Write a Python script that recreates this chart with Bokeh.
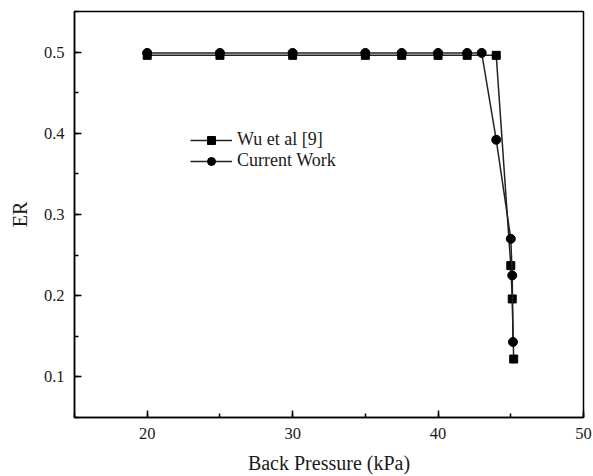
from bokeh.plotting import figure
from bokeh.models import Range1d, SingleIntervalTicker, Legend, LegendItem
from bokeh.embed import file_html
from bokeh.resources import INLINE

wu_x = [20, 25, 30, 35, 37.5, 40, 42, 44, 45.0, 45.1, 45.2]
wu_y = [0.496, 0.496, 0.496, 0.496, 0.496, 0.496, 0.496, 0.496, 0.237, 0.196, 0.122]
cw_x = [20, 25, 30, 35, 37.5, 40, 42, 43, 44, 45.0, 45.1, 45.15]
cw_y = [0.499, 0.499, 0.499, 0.499, 0.499, 0.499, 0.499, 0.499, 0.392, 0.270, 0.225, 0.143]

FONT = "Liberation Serif"
TXT = "#1a1a1a"

p = figure(width=593, height=476, output_backend="svg", toolbar_location=None,
           x_range=Range1d(15, 50), y_range=Range1d(0.05, 0.55),
           min_border_left=74, min_border_right=10, min_border_top=11, min_border_bottom=55)
p.grid.visible = False
p.background_fill_color = "white"
p.border_fill_color = "white"
p.outline_line_color = "black"
p.outline_line_width = 1.5

p.xaxis.ticker = SingleIntervalTicker(interval=10, num_minor_ticks=2)
p.yaxis.ticker = SingleIntervalTicker(interval=0.1, num_minor_ticks=2)
for ax in (p.xaxis[0], p.yaxis[0]):
    ax.major_tick_in = 7
    ax.major_tick_out = 0
    ax.minor_tick_in = 4
    ax.minor_tick_out = 0
    ax.axis_line_width = 1.5
    ax.major_tick_line_width = 1.5
    ax.minor_tick_line_width = 1.5
    ax.axis_line_color = "black"
    ax.major_label_text_font = FONT
    ax.major_label_text_font_size = "16.5px"
    ax.major_label_text_color = TXT
    ax.axis_label_text_font = FONT
    ax.axis_label_text_font_size = "20px"
    ax.axis_label_text_font_style = "normal"
    ax.axis_label_text_color = TXT
    ax.major_label_standoff = 10
    ax.axis_label_standoff = 10

p.xaxis.axis_label = "Back Pressure (kPa)"
p.yaxis.axis_label = "ER"
p.yaxis.major_label_orientation = "horizontal"

l1 = p.line(wu_x, wu_y, line_color="#222222", line_width=1.5)
s1 = p.scatter(wu_x, wu_y, marker="square", size=8, fill_color="black", line_color="black")
l2 = p.line(cw_x, cw_y, line_color="#222222", line_width=1.5)
s2 = p.scatter(cw_x, cw_y, marker="circle", size=9, fill_color="black", line_color="black")

legend = Legend(items=[LegendItem(label="Wu et al [9]", renderers=[l1, s1]),
                       LegendItem(label="Current Work", renderers=[l2, s2])],
                location=(116, 246), padding=0, margin=0, spacing=0,
                glyph_width=42, glyph_height=20, label_height=20, label_standoff=5,
                label_text_font=FONT, label_text_font_size="18px", label_text_color=TXT,
                border_line_color=None, background_fill_alpha=0)
p.add_layout(legend)

open("out.html", "w").write(file_html(p, INLINE))
